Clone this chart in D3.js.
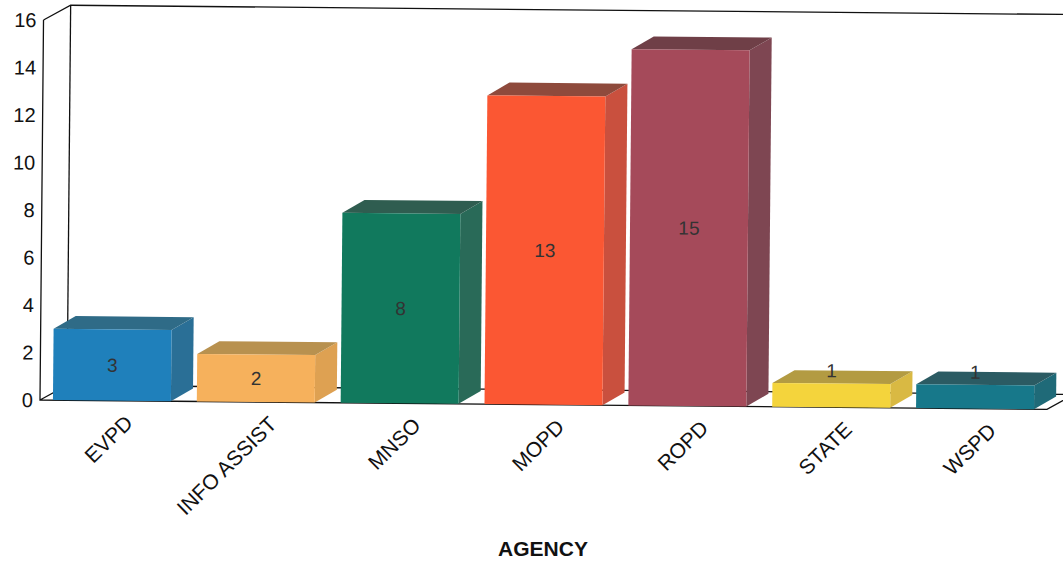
<!DOCTYPE html>
<html>
<head>
<meta charset="utf-8">
<script src="https://cdn.jsdelivr.net/npm/d3@7"></script>
<style>
  html, body { margin: 0; padding: 0; background: #fff; }
  svg { display: block; font-family: Arial, "Liberation Sans", sans-serif; }
</style>
</head>
<body>
<svg id="chart"></svg>
<script>
/* Chart data */
const agencies = ['EVPD', 'INFO ASSIST', 'MNSO', 'MOPD', 'ROPD', 'STATE', 'WSPD']
const counts = [3, 2, 8, 13, 15, 1, 1]
const yTicks = [0, 2, 4, 6, 8, 10, 12, 14, 16]
const frontColors = ['#1f80bb', '#f6b15c', '#11795d', '#fb5733', '#a54a5a', '#f4d43c', '#17788a']
const topColors = ['#2f6b87', '#b8914f', '#2f5d50', '#8e4a3c', '#6f3f47', '#b39b42', '#2b5b63']
const sideColors = ['#2a6f96', '#dea152', '#296a58', '#c9503e', '#7e4652', '#d9b943', '#1f6a78']

const width = 1063
const height = 561

/* wall depth and bar depth offsets */
const wall = { dx: 27, dy: -15 }
const bar = { dx: 22, dy: -13 }

const svg = d3.select('#chart')
  .attr('width', width)
  .attr('height', height)

/* the scanned page is slightly tilted */
const g = svg.append('g')
  .attr('transform', 'rotate(0.53, 40, 400)')

const x = d3.scaleBand()
  .domain(agencies)
  .range([40, 1047])
  .paddingInner(0.18)
  .paddingOuter(0.09)

const y = d3.scaleLinear()
  .domain([0, 16])
  .range([400, 20])

const x0 = x.range()[0]
const x1 = x.range()[1]

/* walls and floor */
const line = d3.line()
g.append('path')
  .attr('d', line([
    [x0, y(16)], [x0 + wall.dx, y(16) + wall.dy], [x1 + wall.dx + 40, y(16) + wall.dy]
  ]))
  .attr('fill', 'none').attr('stroke', '#111').attr('stroke-width', 1.3)
g.append('path')
  .attr('d', line([[x0 + wall.dx, y(16) + wall.dy], [x0 + wall.dx, y(0) + wall.dy]]))
  .attr('fill', 'none').attr('stroke', '#111').attr('stroke-width', 1.3)
g.append('path')
  .attr('d', line([
    [x0, y(16)], [x0, y(0)], [x1, y(0)], [x1 + wall.dx, y(0) + wall.dy],
    [x0 + wall.dx, y(0) + wall.dy], [x0, y(0)]
  ]))
  .attr('fill', 'none').attr('stroke', '#111').attr('stroke-width', 1.3)

/* y axis labels */
g.append('g')
  .selectAll('text')
  .data(yTicks)
  .enter().append('text')
  .attr('x', x0 - 7)
  .attr('y', d => y(d))
  .attr('dy', '0.36em')
  .attr('text-anchor', 'end')
  .attr('font-size', 20)
  .attr('fill', '#111')
  .text(d => d)

/* 3D bars */
const bars = g.append('g')
  .selectAll('g')
  .data(agencies.map((name, i) => ({ name, value: counts[i], i })))
  .enter().append('g')

bars.append('path')
  .attr('fill', d => sideColors[d.i])
  .attr('d', d => {
    const r = x(d.name) + x.bandwidth()
    return line([
      [r, y(d.value)], [r + bar.dx, y(d.value) + bar.dy],
      [r + bar.dx, y(0) + bar.dy], [r, y(0)]
    ]) + 'Z'
  })

bars.append('path')
  .attr('fill', d => topColors[d.i])
  .attr('d', d => {
    const l = x(d.name)
    const r = l + x.bandwidth()
    const t = y(d.value)
    return line([
      [l, t], [l + bar.dx, t + bar.dy], [r + bar.dx, t + bar.dy], [r, t]
    ]) + 'Z'
  })

bars.append('rect')
  .attr('x', d => x(d.name))
  .attr('y', d => y(d.value))
  .attr('width', x.bandwidth())
  .attr('height', d => y(0) - y(d.value))
  .attr('fill', d => frontColors[d.i])

/* value labels */
bars.append('text')
  .attr('x', d => x(d.name) + x.bandwidth() / 2)
  .attr('y', d => {
    const h = y(0) - y(d.value)
    return h < 30 ? y(d.value) - 13 : y(d.value) + h / 2
  })
  .attr('dy', '0.36em')
  .attr('text-anchor', 'middle')
  .attr('font-size', 19)
  .attr('fill', '#333')
  .text(d => d.value)

/* category labels */
g.append('g')
  .selectAll('text')
  .data(agencies)
  .enter().append('text')
  .attr('transform', d => `translate(${x(d) + x.bandwidth() / 2 + 12}, 413) rotate(-45)`)
  .attr('text-anchor', 'end')
  .attr('dy', '0.7em')
  .attr('font-size', 21)
  .attr('fill', '#111')
  .text(d => d)

/* axis title */
svg.append('text')
  .attr('x', 543)
  .attr('y', 556)
  .attr('text-anchor', 'middle')
  .attr('font-size', 21)
  .attr('font-weight', 'bold')
  .attr('fill', '#111')
  .text('AGENCY')
</script>
</body>
</html>
